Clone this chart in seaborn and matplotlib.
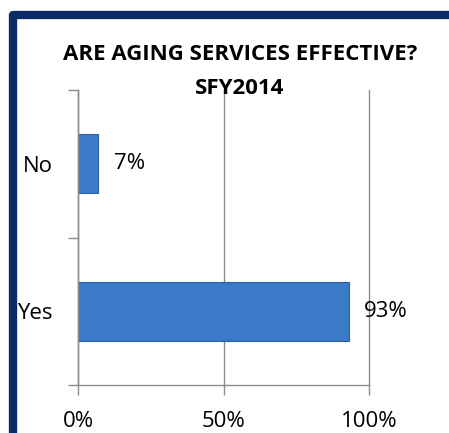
import matplotlib
matplotlib.use("Agg")
import matplotlib.pyplot as plt
import matplotlib.patches as patches
import pandas as pd
import seaborn as sns

# daten
antworten = ["No", "Yes"]
anteil = [7, 93]
x_ticks = [0, 50, 100]
x_labels = ["0%", "50%", "100%"]

df = pd.DataFrame({"Antwort": antworten, "Anteil": anteil})

sns.set_theme(style="white")
plt.rcParams["font.family"] = ["Open Sans", "DejaVu Sans"]
plt.rcParams["text.color"] = "black"
plt.rcParams["xtick.color"] = "black"
plt.rcParams["ytick.color"] = "black"
plt.rcParams["xtick.bottom"] = True
plt.rcParams["ytick.left"] = True

fig = plt.figure(figsize=(4.49, 4.33), dpi=100)
ax = fig.add_axes([78 / 449, 1 - 385 / 433, 291 / 449, 295 / 433])

sns.barplot(data=df, x="Anteil", y="Antwort", orient="h", color="#3b7ac6",
            width=0.4, saturation=1, edgecolor="#2d5e9e", linewidth=0.8, ax=ax)

ax.set_xlim(0, 100)
ax.set_ylim(1.5, -0.5)
ax.set_xticks(x_ticks)
ax.set_xticklabels(x_labels, fontsize=16)
ax.tick_params(axis="y", which="major", length=0, pad=18, labelsize=16)
ax.set_yticks([-0.5, 0.5, 1.5], minor=True)
ax.tick_params(axis="y", which="minor", length=7, color="#8c8c8c", width=1)
ax.tick_params(axis="x", length=7, color="#8c8c8c", width=1, pad=12)
ax.set_xlabel("")
ax.set_ylabel("")

# gitterlinien
ax.xaxis.grid(True, color="#8c8c8c", linewidth=1)
for gl in ax.get_xgridlines():
    gl.set_clip_on(False)
ax.set_axisbelow(True)
for s in ["top", "right"]:
    ax.spines[s].set_visible(False)
for s in ["left", "bottom"]:
    ax.spines[s].set_color("#8c8c8c")
    ax.spines[s].set_linewidth(1)

# werte an die balken
ax.bar_label(ax.containers[0], labels=[f"{v}%" for v in anteil],
             padding=11, fontsize=16)

# titel
fig.text(240 / 449, 1 - 54 / 433, "ARE AGING SERVICES EFFECTIVE?",
         ha="center", va="center", fontsize=16, fontweight="bold")
fig.text(240 / 449, 1 - 88 / 433, "SFY2014",
         ha="center", va="center", fontsize=16, fontweight="bold")

# rahmen
fig.patches.append(patches.Rectangle((13 / 449, -0.1), 1.2, 1.1 - 15 / 433,
                                     transform=fig.transFigure, fill=False,
                                     edgecolor="#0b2a66", linewidth=6,
                                     joinstyle="round"))

fig.savefig("out.png", dpi=100)
